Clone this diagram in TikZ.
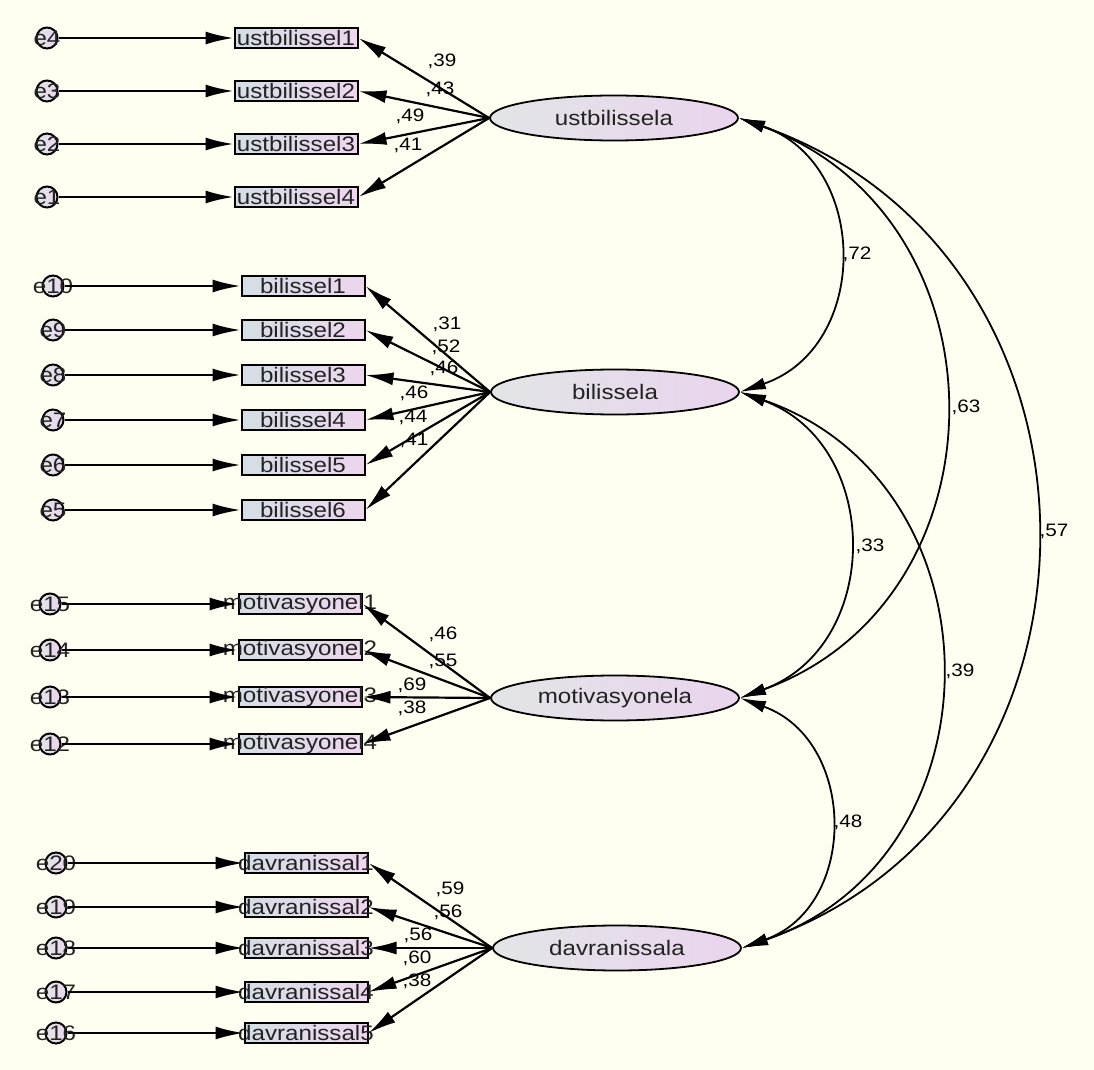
\documentclass[tikz,border=0pt]{standalone}
\usepackage{fontspec}
\setmainfont[FakeStretch=1.15]{Liberation Sans}
\usetikzlibrary{shapes.geometric,arrows.meta}

\definecolor{paper}{RGB}{255,255,241}
\definecolor{boxleft}{RGB}{212,222,228}
\definecolor{boxright}{RGB}{238,214,238}
\definecolor{latleft}{RGB}{226,229,230}
\definecolor{latright}{RGB}{234,212,238}
\definecolor{ink}{RGB}{35,35,35}

% text that may run over the edge of its box
\newcommand{\wide}[1]{\makebox[0pt]{#1}}

\tikzset{
  obs/.style={draw, line width=1pt, left color=boxleft, right color=boxright,
    minimum width=61.5pt, minimum height=10pt, inner sep=0pt,
    font=\fontsize{10.5}{12}\selectfont, text=ink},
  err/.style={circle, draw, line width=1pt, left color=latleft, right color=latright,
    minimum size=10.5pt, inner sep=0pt, font=\fontsize{10.5}{12}\selectfont, text=ink},
  lat/.style={ellipse, draw, line width=0.9pt, left color=latleft, right color=latright,
    minimum width=124pt, minimum height=22.5pt, inner sep=0pt,
    font=\fontsize{10.5}{12}\selectfont, text=ink},
  reg/.style={line width=1.1pt, -{Latex[length=14pt,width=6.5pt]}},
  cov/.style={line width=0.9pt, {Latex[length=13pt,width=6pt]}-{Latex[length=13pt,width=6pt]}},
  coef/.style={font=\fontsize{9}{10}\selectfont, inner sep=0pt}
}

\begin{document}
\begin{tikzpicture}[x=0.5pt,y=-0.5pt]
    \useasboundingbox (0,0) rectangle (1094,1070);
    \fill[paper] (0,0) rectangle (1094,1070);

    % latent factors
    \node[lat] (ust) at (614,118) {ustbilissela};
    \node[lat] (bil) at (615,392) {bilissela};
    \node[lat] (mot) at (615,698) {motivasyonela};
    \node[lat] (dav) at (617,948) {davranissala};

    % ustbilissel items
    \node[obs] (ust1) at (296,38) {\wide{ustbilissel1}};
    \node[obs] (ust2) at (296,91) {\wide{ustbilissel2}};
    \node[obs] (ust3) at (296,144) {\wide{ustbilissel3}};
    \node[obs] (ust4) at (296,197) {\wide{ustbilissel4}};
    \node[err] (e4) at (47,38) {\wide{e4}};
    \node[err] (e3) at (47,91) {\wide{e3}};
    \node[err] (e2) at (47,144) {\wide{e2}};
    \node[err] (e1) at (47,197) {\wide{e1}};

    % bilissel items
    \node[obs] (bil1) at (303,286) {\wide{bilissel1}};
    \node[obs] (bil2) at (303,330) {\wide{bilissel2}};
    \node[obs] (bil3) at (303,375) {\wide{bilissel3}};
    \node[obs] (bil4) at (303,420) {\wide{bilissel4}};
    \node[obs] (bil5) at (303,465) {\wide{bilissel5}};
    \node[obs] (bil6) at (303,510) {\wide{bilissel6}};
    \node[err] (e10) at (53,286) {\wide{e10}};
    \node[err] (e9) at (53,330) {\wide{e9}};
    \node[err] (e8) at (53,375) {\wide{e8}};
    \node[err] (e7) at (53,420) {\wide{e7}};
    \node[err] (e6) at (53,465) {\wide{e6}};
    \node[err] (e5) at (53,510) {\wide{e5}};

    % motivasyonel items
    \node[obs] (mot1) at (300,604) {\wide{motivasyonel1}};
    \node[obs] (mot2) at (300,650) {\wide{motivasyonel2}};
    \node[obs] (mot3) at (300,697) {\wide{motivasyonel3}};
    \node[obs] (mot4) at (300,744) {\wide{motivasyonel4}};
    \node[err] (e15) at (50,604) {\wide{e15}};
    \node[err] (e14) at (50,650) {\wide{e14}};
    \node[err] (e13) at (50,697) {\wide{e13}};
    \node[err] (e12) at (50,744) {\wide{e12}};

    % davranissal items
    \node[obs] (dav1) at (306,863) {\wide{davranissal1}};
    \node[obs] (dav2) at (306,907) {\wide{davranissal2}};
    \node[obs] (dav3) at (306,948) {\wide{davranissal3}};
    \node[obs] (dav4) at (306,992) {\wide{davranissal4}};
    \node[obs] (dav5) at (306,1033) {\wide{davranissal5}};
    \node[err] (e20) at (56,863) {\wide{e20}};
    \node[err] (e19) at (56,907) {\wide{e19}};
    \node[err] (e18) at (56,948) {\wide{e18}};
    \node[err] (e17) at (56,992) {\wide{e17}};
    \node[err] (e16) at (56,1033) {\wide{e16}};

    % error terms
    \draw[reg] (e4) -- (ust1);
    \draw[reg] (e3) -- (ust2);
    \draw[reg] (e2) -- (ust3);
    \draw[reg] (e1) -- (ust4);
    \draw[reg] (e10) -- (bil1);
    \draw[reg] (e9) -- (bil2);
    \draw[reg] (e8) -- (bil3);
    \draw[reg] (e7) -- (bil4);
    \draw[reg] (e6) -- (bil5);
    \draw[reg] (e5) -- (bil6);
    \draw[reg] (e15) -- (mot1);
    \draw[reg] (e14) -- (mot2);
    \draw[reg] (e13) -- (mot3);
    \draw[reg] (e12) -- (mot4);
    \draw[reg] (e20) -- (dav1);
    \draw[reg] (e19) -- (dav2);
    \draw[reg] (e18) -- (dav3);
    \draw[reg] (e17) -- (dav4);
    \draw[reg] (e16) -- (dav5);

    % loadings
    \draw[reg] (ust.west) -- (ust1.east);
    \draw[reg] (ust.west) -- (ust2.east);
    \draw[reg] (ust.west) -- (ust3.east);
    \draw[reg] (ust.west) -- (ust4.east);
    \draw[reg] (bil.west) -- (bil1.east);
    \draw[reg] (bil.west) -- (bil2.east);
    \draw[reg] (bil.west) -- (bil3.east);
    \draw[reg] (bil.west) -- (bil4.east);
    \draw[reg] (bil.west) -- (bil5.east);
    \draw[reg] (bil.west) -- (bil6.east);
    \draw[reg] (mot.west) -- (mot1.east);
    \draw[reg] (mot.west) -- (mot2.east);
    \draw[reg] (mot.west) -- (mot3.east);
    \draw[reg] (mot.west) -- (mot4.east);
    \draw[reg] (dav.west) -- (dav1.east);
    \draw[reg] (dav.west) -- (dav2.east);
    \draw[reg] (dav.west) -- (dav3.east);
    \draw[reg] (dav.west) -- (dav4.east);
    \draw[reg] (dav.west) -- (dav5.east);

    \node[coef] at (442,61) {,39};
    \node[coef] at (440,89) {,43};
    \node[coef] at (410,116) {,49};
    \node[coef] at (408,145) {,41};
    \node[coef] at (447,324) {,31};
    \node[coef] at (446,347) {,52};
    \node[coef] at (444,368) {,46};
    \node[coef] at (414,393) {,46};
    \node[coef] at (413,417) {,44};
    \node[coef] at (414,440) {,41};
    \node[coef] at (443,634) {,46};
    \node[coef] at (443,661) {,55};
    \node[coef] at (412,685) {,69};
    \node[coef] at (412,708) {,38};
    \node[coef] at (450,889) {,59};
    \node[coef] at (448,912) {,56};
    \node[coef] at (418,935) {,56};
    \node[coef] at (417,958) {,60};
    \node[coef] at (417,981) {,38};

    % correlations between factors
    \draw[cov] (ust.east) .. controls +(131,45) and +(131,-45) .. (bil.east);
    \draw[cov] (ust.east) .. controls +(272,98) and +(272,-98) .. (mot.east);
    \draw[cov] (ust.east) .. controls +(392,138) and +(392,-138) .. (dav.east);
    \draw[cov] (bil.east) .. controls +(143,52) and +(143,-52) .. (mot.east);
    \draw[cov] (bil.east) .. controls +(264,91) and +(264,-91) .. (dav.east);
    \draw[cov] (mot.east) .. controls +(117,42) and +(117,-42) .. (dav.east);

    \node[coef] at (857,254) {,72};
    \node[coef] at (966,407) {,63};
    \node[coef] at (1054,531) {,57};
    \node[coef] at (870,546) {,33};
    \node[coef] at (960,671) {,39};
    \node[coef] at (848,822) {,48};
\end{tikzpicture}
\end{document}
